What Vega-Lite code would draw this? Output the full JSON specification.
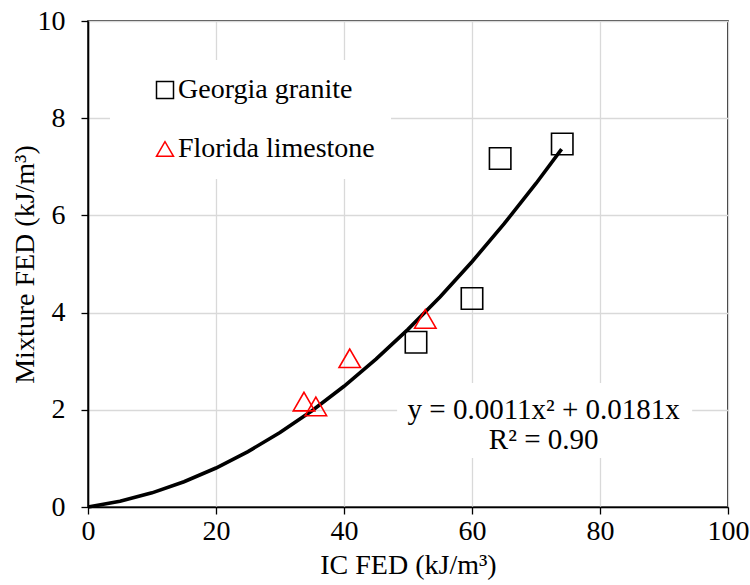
{
  "$schema": "https://vega.github.io/schema/vega-lite/v6.json",
  "autosize": "none",
  "width": 640,
  "height": 486,
  "padding": {"left": 88, "top": 21, "right": 22, "bottom": 78},
  "background": "white",
  "config": {
    "font": "Liberation Serif",
    "view": {"stroke": "black", "strokeWidth": 1.6},
    "axis": {
      "labelFont": "Liberation Serif, Times New Roman, serif", "labelFontSize": 28, "labelColor": "black",
      "titleFont": "Liberation Serif", "titleFontSize": 28, "titleFontWeight": "normal", "titleColor": "black",
      "domainColor": "black", "domainWidth": 1.6, "tickColor": "black", "tickSize": 7, "tickWidth": 1.3,
      "gridColor": "#d9d9d9", "gridWidth": 1.3, "labelFlush": false, "labelOverlap": false
    },
    "legend": {"labelFont": "Liberation Serif, Times New Roman, serif"}
  },
  "datasets": {
    "pts": [
      {"ic": 64.4, "mix": 7.17, "agg": "Georgia granite"},
      {"ic": 74.1, "mix": 7.47, "agg": "Georgia granite"},
      {"ic": 60.0, "mix": 4.29, "agg": "Georgia granite"},
      {"ic": 51.25, "mix": 3.39, "agg": "Georgia granite"},
      {"ic": 33.75, "mix": 2.17, "agg": "Florida limestone"},
      {"ic": 35.6, "mix": 2.07, "agg": "Florida limestone"},
      {"ic": 40.9, "mix": 3.06, "agg": "Florida limestone"},
      {"ic": 52.7, "mix": 3.87, "agg": "Florida limestone"}
    ],
    "fit": [
      {"ic": 0, "mix": 0},
      {"ic": 5, "mix": 0.118},
      {"ic": 10, "mix": 0.291},
      {"ic": 15, "mix": 0.519},
      {"ic": 20, "mix": 0.802},
      {"ic": 25, "mix": 1.14},
      {"ic": 30, "mix": 1.533},
      {"ic": 35, "mix": 1.981},
      {"ic": 40, "mix": 2.484},
      {"ic": 45, "mix": 3.042},
      {"ic": 50, "mix": 3.655},
      {"ic": 55, "mix": 4.323},
      {"ic": 60, "mix": 5.046},
      {"ic": 65, "mix": 5.824},
      {"ic": 70, "mix": 6.657},
      {"ic": 74, "mix": 7.363}
    ]
  },
  "layer": [
    {
      "data": {"name": "fit"},
      "mark": {"type": "line", "color": "black", "strokeWidth": 3.6},
      "encoding": {
        "x": {"field": "ic", "type": "quantitative",
              "scale": {"domain": [0, 100], "nice": false},
              "axis": {"title": "IC FED (kJ/m³)", "values": [0, 20, 40, 60, 80, 100], "labelPadding": 3, "titlePadding": 6}},
        "y": {"field": "mix", "type": "quantitative",
              "scale": {"domain": [0, 10], "nice": false},
              "axis": {"title": "Mixture FED (kJ/m³)", "values": [0, 2, 4, 6, 8, 10], "labelPadding": 16, "titlePadding": -2}}
      }
    },
    {
      "data": {"values": [{}]},
      "mark": {"type": "rect", "fill": "white"},
      "encoding": {
        "x": {"datum": 48.3, "type": "quantitative"},
        "x2": {"datum": 94.4},
        "y": {"datum": 1.01, "type": "quantitative"},
        "y2": {"datum": 2.55}
      }
    },
    {
      "data": {"values": [{"line": "y = 0.0011x² + 0.0181x"}]},
      "mark": {"type": "text", "font": "Liberation Serif", "fontSize": 29, "color": "black", "align": "center", "baseline": "middle"},
      "encoding": {
        "x": {"datum": 71.2, "type": "quantitative"},
        "y": {"datum": 1.99, "type": "quantitative"},
        "text": {"field": "line"}
      }
    },
    {
      "data": {"values": [{"line": "R² = 0.90"}]},
      "mark": {"type": "text", "font": "Liberation Serif", "fontSize": 29, "color": "black", "align": "center", "baseline": "middle"},
      "encoding": {
        "x": {"datum": 71.2, "type": "quantitative"},
        "y": {"datum": 1.38, "type": "quantitative"},
        "text": {"field": "line"}
      }
    },
    {
      "data": {"name": "pts"},
      "mark": {"type": "point", "filled": false, "strokeWidth": 1.6, "size": 460, "opacity": 1},
      "encoding": {
        "x": {"field": "ic", "type": "quantitative"},
        "y": {"field": "mix", "type": "quantitative"},
        "shape": {"field": "agg", "type": "nominal",
                  "scale": {"domain": ["Georgia granite", "Florida limestone"], "range": ["square", "triangle-up"]},
                  "legend": {
                    "title": null, "orient": "none", "legendX": 22, "legendY": 39,
                    "fillColor": "white", "padding": 16, "symbolOffset": 25,
                    "symbolSize": 289, "symbolStrokeWidth": 1.5, "symbolFillColor": "transparent",
                    "labelFontSize": 28, "labelColor": "black",
                    "labelOffset": -1, "rowPadding": 31, "labelLimit": 400
                  }},
        "color": {"field": "agg", "type": "nominal",
                  "scale": {"domain": ["Georgia granite", "Florida limestone"], "range": ["black", "#ff0000"]}}
      }
    }
  ]
}
